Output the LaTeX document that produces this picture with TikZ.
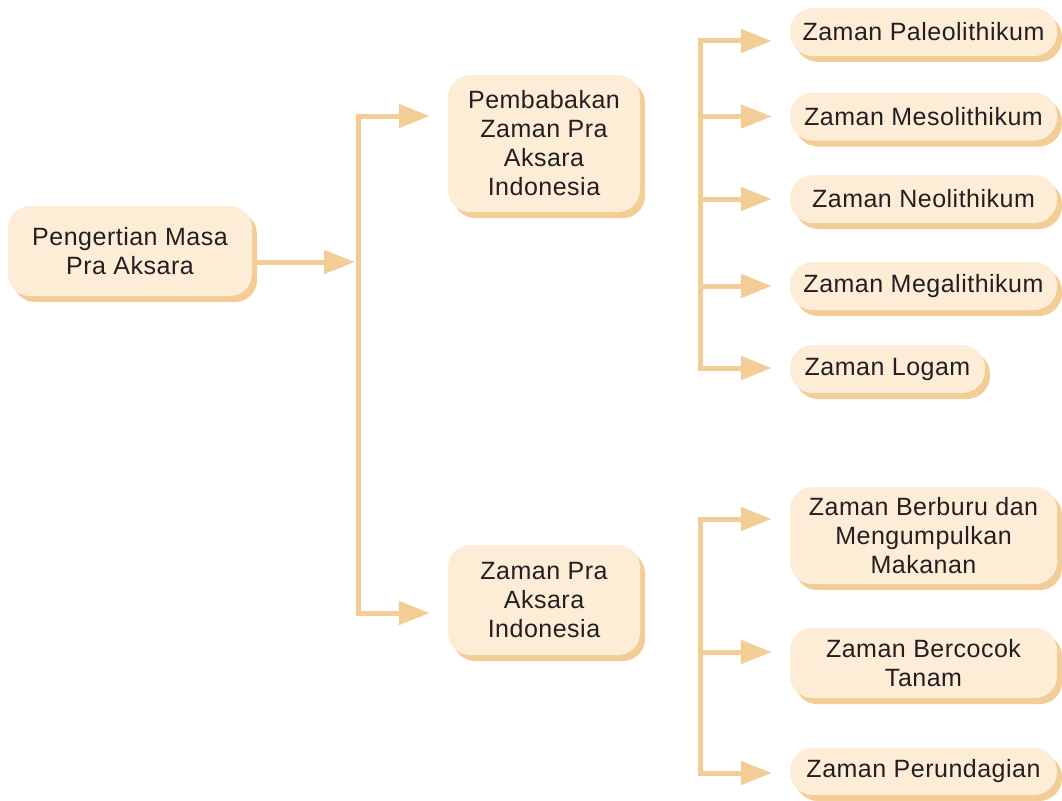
\documentclass[tikz,border=0pt]{standalone}
\usepackage{fontspec}
\setmainfont{Liberation Sans}[LetterSpace=2]
\usetikzlibrary{arrows.meta,shadows}
\definecolor{boxfill}{RGB}{253,237,215}
\definecolor{shad}{RGB}{242,205,150}
\definecolor{linecol}{RGB}{243,205,150}
\definecolor{txt}{RGB}{35,31,32}
\tikzset{
  box/.style={rectangle, rounded corners=22pt, fill=boxfill, text=txt, align=center,
    font=\fontsize{25}{29}\selectfont, inner sep=0pt,
    general shadow={fill=shad, shadow xshift=5pt, shadow yshift=-6pt}},
  pill/.style={box, rounded corners=23pt},
  conn/.style={draw=linecol, line width=5pt, line join=miter},
  arr/.style={conn, -{Triangle[length=31pt,width=23pt]}},
  arr2/.style={conn, {Triangle[length=31pt,width=23pt]}-{Triangle[length=31pt,width=23pt]}}
}
\begin{document}
\begin{tikzpicture}[x=1pt,y=-1pt]
\useasboundingbox (0,0) rectangle (1062,800);
% left column
\node[box, minimum width=244pt, minimum height=90pt] (b1) at (130,251) {Pengertian Masa\\Pra Aksara};
% middle column
\node[box, minimum width=192pt, minimum height=137pt] (b2) at (544,143.5) {Pembabakan\\Zaman Pra\\Aksara\\Indonesia};
\node[box, minimum width=192pt, minimum height=110pt] (b3) at (544,600) {Zaman Pra\\Aksara\\Indonesia};
% right top
\node[pill, minimum width=267pt, minimum height=48pt] (p1) at (923.5,32) {Zaman Paleolithikum};
\node[pill, minimum width=267pt, minimum height=48pt] (p2) at (923.5,116.5) {Zaman Mesolithikum};
\node[pill, minimum width=267pt, minimum height=48pt] (p3) at (923.5,199) {Zaman Neolithikum};
\node[pill, minimum width=267pt, minimum height=48pt] (p4) at (923.5,286) {Zaman Megalithikum};
\node[pill, minimum width=195pt, minimum height=48pt] (p5) at (887.5,369) {Zaman Logam};
% right bottom
\node[box, minimum width=267pt, minimum height=97pt] (q1) at (923.5,535.5) {Zaman Berburu dan\\Mengumpulkan\\Makanan};
\node[box, minimum width=267pt, minimum height=70pt] (q2) at (923.5,663) {Zaman Bercocok\\Tanam};
\node[pill, minimum width=267pt, minimum height=47pt] (q3) at (923.5,771.5) {Zaman Perundagian};
% junction coordinates
\coordinate (j1t) at (358,116);
\coordinate (j1m) at (358,262);
\coordinate (j1b) at (358,613);
\coordinate (a1) at (700,41);
\coordinate (a5) at (700,368);
\coordinate (c1) at (700,519);
\coordinate (c2) at (700,652);
\coordinate (c3) at (700,773);
% connectors
\draw[arr, shorten >=3pt] (b1.east |- j1m) -- (j1m);
\draw[arr2, shorten <=18pt, shorten >=18pt] (b2.west |- j1t) -- (j1t) -- (j1b) -- (b3.west |- j1b);
\draw[arr2, shorten <=18pt, shorten >=18pt] (p1.west |- a1) -- (a1) -- (a5) -- (p5.west |- a5);
\draw[arr, shorten >=18pt] (a1 |- p2.west) -- (p2.west);
\draw[arr, shorten >=18pt] (a1 |- p3.west) -- (p3.west);
\draw[arr, shorten >=18pt] (a1 |- p4.west) -- (p4.west);
\draw[arr2, shorten <=18pt, shorten >=18pt] (q1.west |- c1) -- (c1) -- (c3) -- (q3.west |- c3);
\draw[arr, shorten >=18pt] (c2) -- (q2.west |- c2);
\end{tikzpicture}
\end{document}
